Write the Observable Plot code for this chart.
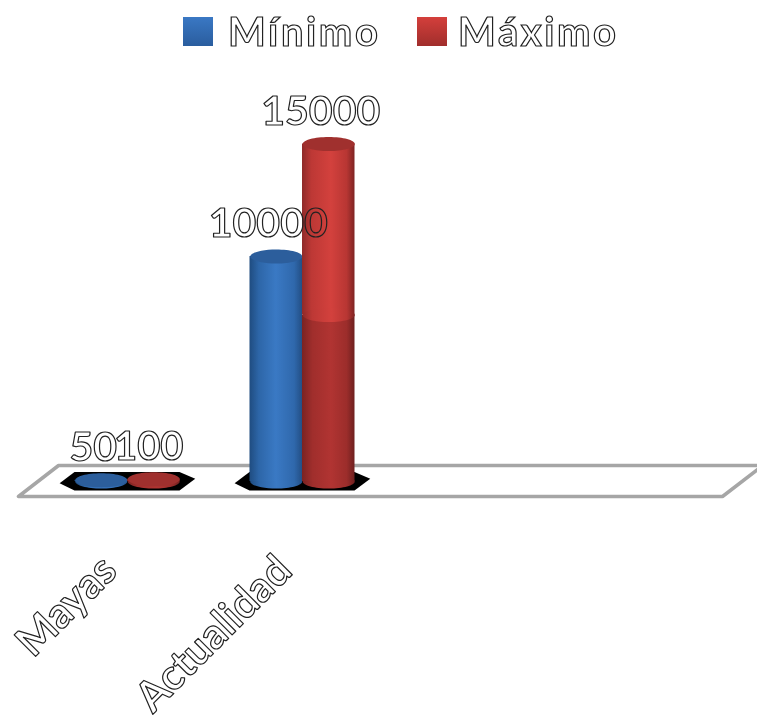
<!DOCTYPE html>
<html lang="es">
<head>
<meta charset="utf-8">
<script src="https://cdn.jsdelivr.net/npm/d3@7"></script>
<script src="https://cdn.jsdelivr.net/npm/@observablehq/plot@0.6"></script>
<style>
  html,body{margin:0;padding:0;background:#fff;width:757px;height:722px;overflow:hidden}
  #legend{position:relative;height:62px;font:bold 40px Lato,sans-serif;letter-spacing:2.6px;filter:blur(.6px)}
  #legend span{position:absolute}
  .sw{width:30px;height:29px;top:17px}
  .lb{top:7px;line-height:48px;color:transparent;-webkit-text-stroke:1.2px #222}
  #chart{filter:blur(.6px);height:660px}
  svg{display:block;overflow:hidden}
</style>
</head>
<body>
<div id="legend">
  <span class="sw" style="left:183px;background:linear-gradient(#3a78c4,#2a5d9e)"></span>
  <span class="lb" style="left:228px">Mínimo</span>
  <span class="sw" style="left:417px;background:linear-gradient(#d43f3b,#a02e2c)"></span>
  <span class="lb" style="left:458px">Máximo</span>
</div>
<div id="chart"></div>
<script>
// Chart values
const categories = ["Mayas", "Actualidad"];
const positions = [0, 1];
const minimo = [50, 10000];
const maximo = [100, 15000];
const shadeLevel = 7400;            // where the red column turns darker

// Floor of the fake-3D chart, in scale units (closed outline)
const floorX = [-0.623, -0.394, 3.63, 3.40, -0.623];
const floorY = [-667, 711, 711, -667, -667];

// Black patch under each pair of cylinders, in scale units
const shadowX = [-0.385, -0.30, 0.30, 0.39];
const shadowY1 = [-100, -420, -420, 100];
const shadowY2 = [-100, 400, 400, 100];

const barWidth = 0.3;
const axisLabelY = -667;

const rows = positions.map((p, i) => ({
  name: categories[i], p, lo: minimo[i], hi: maximo[i]
}));
const shadowRows = positions.flatMap(p =>
  shadowX.map((dx, j) => ({p, x: p + dx, y1: shadowY1[j], y2: shadowY2[j]})));
const floorRows = floorX.map((x, i) => ({x, y: floorY[i]}));
const tallRows = rows.filter(d => d.hi > shadeLevel);
const shortRows = rows.filter(d => d.hi <= shadeLevel);

const ellipse = {
  draw(ctx, size) {
    const rx = Math.sqrt(size / Math.PI), ry = rx * 0.27, k = 0.5523;
    ctx.moveTo(-rx, 0);
    ctx.bezierCurveTo(-rx, -ry * k, -rx * k, -ry, 0, -ry);
    ctx.bezierCurveTo(rx * k, -ry, rx, -ry * k, rx, 0);
    ctx.bezierCurveTo(rx, ry * k, rx * k, ry, 0, ry);
    ctx.bezierCurveTo(-rx * k, ry, -rx, ry * k, -rx, 0);
    ctx.closePath();
  }
};

function gradient(defs, id, stops) {
  const g = defs.append("linearGradient").attr("id", id);
  stops.forEach(([o, c]) => g.append("stop").attr("offset", o).attr("stop-color", c));
}
const defsMark = () => {
  const defs = d3.create("svg:defs");
  gradient(defs, "gBlue", [[0, "#1f4c80"], [.18, "#2d66a8"], [.5, "#3a79c4"], [.85, "#2f68ac"], [1, "#234f85"]]);
  gradient(defs, "gRed", [[0, "#8f2a29"], [.18, "#bd3835"], [.55, "#d3413d"], [.85, "#b83633"], [1, "#7f2423"]]);
  gradient(defs, "gRedDark", [[0, "#7a2322"], [.2, "#a02e2c"], [.55, "#b13432"], [.85, "#9c2d2b"], [1, "#6f201f"]]);
  return defs.node();
};

const outlined = {
  fill: "none", stroke: "#222", strokeWidth: 1.2,
  fontFamily: "Lato, sans-serif", fontWeight: "bold"
};

const plot = Plot.plot({
  width: 757, height: 660,
  marginTop: 0, marginRight: 0, marginBottom: 0, marginLeft: 0,
  x: {axis: null, domain: [-0.7257, 3.6], range: [0, 757]},
  y: {axis: null, domain: [-10711, 18622], range: [660, 0]},
  marks: [
    defsMark,
    Plot.line(floorRows, {x: "x", y: "y", stroke: "#a6a6a6", strokeWidth: 3.5, strokeLinejoin: "miter", fill: "#fff"}),
    Plot.areaY(shadowRows, {x: "x", y1: "y1", y2: "y2", z: "p", fill: "#000"}),

    // Mínimo cylinders
    Plot.dot(rows, {x: d => d.p - barWidth / 2, y: 0, r: 26, symbol: ellipse, fill: "url(#gBlue)"}),
    Plot.rect(rows, {x1: d => d.p - barWidth, x2: "p", y1: 0, y2: "lo", fill: "url(#gBlue)"}),
    Plot.dot(rows, {x: d => d.p - barWidth / 2, y: "lo", r: 26, symbol: ellipse, fill: "#2c5e9c"}),

    // Máximo cylinders
    Plot.dot(rows, {x: d => d.p + barWidth / 2, y: 0, r: 26, symbol: ellipse, fill: "url(#gRedDark)"}),
    Plot.rect(rows, {x1: "p", x2: d => d.p + barWidth, y1: 0, y2: d => Math.min(d.hi, shadeLevel), fill: "url(#gRedDark)"}),
    Plot.rect(tallRows, {x1: "p", x2: d => d.p + barWidth, y1: shadeLevel, y2: "hi", fill: "url(#gRed)"}),
    Plot.dot(tallRows, {x: d => d.p + barWidth / 2, y: shadeLevel, r: 26, symbol: ellipse, fill: "url(#gRed)"}),
    Plot.dot(rows, {x: d => d.p + barWidth / 2, y: "hi", r: 26, symbol: ellipse, fill: "#a0302e"}),

    // Value labels
    Plot.text(rows, {x: d => d.p - barWidth / 2, y: "lo", text: d => String(d.lo), dx: -8, dy: -19, lineAnchor: "bottom", fontSize: 41, ...outlined}),
    Plot.text(tallRows, {x: d => d.p + barWidth / 2, y: "hi", text: d => String(d.hi), dx: -8, dy: -19, lineAnchor: "bottom", fontSize: 41, ...outlined}),
    Plot.text(shortRows, {x: d => d.p + barWidth / 2, y: "hi", text: d => String(d.hi), dx: -5, dy: -19, lineAnchor: "bottom", fontSize: 40, ...outlined}),

    // Category labels
    Plot.text(rows, {x: "p", y: axisLabelY, text: "name", rotate: -45, textAnchor: "end", dx: -18, dy: 67, fontSize: 42, ...outlined})
  ]
});
document.getElementById("chart").append(plot);
</script>
</body>
</html>
